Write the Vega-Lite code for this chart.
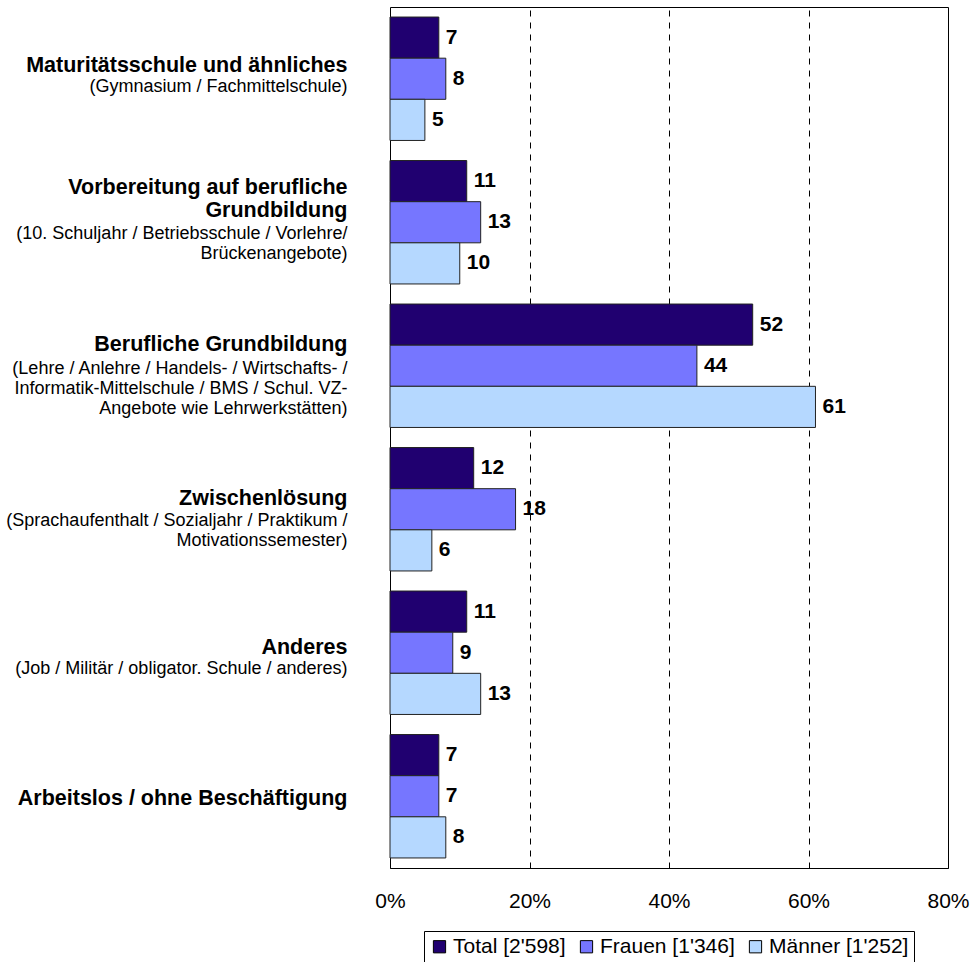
{
  "$schema": "https://vega.github.io/schema/vega-lite/v6.json",
  "width": 558,
  "height": 861,
  "padding": {"left": 5, "top": 7, "right": 0, "bottom": 0},
  "background": "white",
  "config": {
    "font": "Liberation Sans",
    "view": {"stroke": "black", "strokeWidth": 1},
    "axis": {"domain": false, "ticks": false, "title": null},
    "legend": {"layout": {"bottom": {"anchor": "middle"}}}
  },
  "data": {
    "values": [
      {"cat": "Maturitätsschule und ähnliches", "series": "Total [2'598]", "value": 7},
      {"cat": "Maturitätsschule und ähnliches", "series": "Frauen [1'346]", "value": 8},
      {"cat": "Maturitätsschule und ähnliches", "series": "Männer [1'252]", "value": 5},
      {"cat": "Vorbereitung auf berufliche Grundbildung", "series": "Total [2'598]", "value": 11},
      {"cat": "Vorbereitung auf berufliche Grundbildung", "series": "Frauen [1'346]", "value": 13},
      {"cat": "Vorbereitung auf berufliche Grundbildung", "series": "Männer [1'252]", "value": 10},
      {"cat": "Berufliche Grundbildung", "series": "Total [2'598]", "value": 52},
      {"cat": "Berufliche Grundbildung", "series": "Frauen [1'346]", "value": 44},
      {"cat": "Berufliche Grundbildung", "series": "Männer [1'252]", "value": 61},
      {"cat": "Zwischenlösung", "series": "Total [2'598]", "value": 12},
      {"cat": "Zwischenlösung", "series": "Frauen [1'346]", "value": 18},
      {"cat": "Zwischenlösung", "series": "Männer [1'252]", "value": 6},
      {"cat": "Anderes", "series": "Total [2'598]", "value": 11},
      {"cat": "Anderes", "series": "Frauen [1'346]", "value": 9},
      {"cat": "Anderes", "series": "Männer [1'252]", "value": 13},
      {"cat": "Arbeitslos / ohne Beschäftigung", "series": "Total [2'598]", "value": 7},
      {"cat": "Arbeitslos / ohne Beschäftigung", "series": "Frauen [1'346]", "value": 7},
      {"cat": "Arbeitslos / ohne Beschäftigung", "series": "Männer [1'252]", "value": 8}
    ]
  },
  "resolve": {"axis": {"y": "independent"}},
  "layer": [
    {
      "mark": {"type": "bar", "stroke": "#222222", "strokeWidth": 1},
      "encoding": {
        "y": {
          "field": "cat", "type": "nominal",
          "sort": ["Maturitätsschule und ähnliches", "Vorbereitung auf berufliche Grundbildung", "Berufliche Grundbildung", "Zwischenlösung", "Anderes", "Arbeitslos / ohne Beschäftigung"],
          "scale": {"paddingInner": 0.14, "paddingOuter": 0.07},
          "axis": {
            "orient": "left",
            "labelFont": "Liberation Sans",
            "labelFontSize": 21.5,
            "labelFontWeight": "bold",
            "labelColor": "black",
            "labelLineHeight": 23,
            "labelPadding": 43,
            "labelLimit": 0,
            "labelBaseline": "middle",
            "labelOffset": {"expr": "datum.value == 'Maturitätsschule und ähnliches' ? -13 : datum.value == 'Vorbereitung auf berufliche Grundbildung' ? -34 : datum.value == 'Berufliche Grundbildung' ? -21 : datum.value == 'Zwischenlösung' ? -10 : datum.value == 'Anderes' ? -5 : 3"},
            "labelExpr": "datum.value == 'Vorbereitung auf berufliche Grundbildung' ? ['Vorbereitung auf berufliche', 'Grundbildung'] : datum.value"
          }
        },
        "yOffset": {
          "field": "series", "type": "nominal",
          "sort": ["Total [2'598]", "Frauen [1'346]", "Männer [1'252]"],
          "scale": {"paddingInner": 0, "paddingOuter": 0}
        },
        "x": {
          "field": "value", "type": "quantitative",
          "scale": {"domain": [0, 80], "nice": false},
          "axis": {
            "values": [0, 20, 40, 60, 80],
            "labelExpr": "datum.value + '%'",
            "labelFontSize": 21,
            "labelColor": "black",
            "labelPadding": 22,
            "labelFlush": false,
            "grid": true,
            "gridColor": "black",
            "gridDash": [6, 6],
            "gridWidth": 1,
            "gridOpacity": 1
          }
        },
        "color": {
          "field": "series", "type": "nominal",
          "sort": ["Total [2'598]", "Frauen [1'346]", "Männer [1'252]"],
          "scale": {
            "domain": ["Total [2'598]", "Frauen [1'346]", "Männer [1'252]"],
            "range": ["#200070", "#7676FF", "#B5D8FF"]
          },
          "legend": {
            "title": null,
            "orient": "bottom",
            "direction": "horizontal",
            "columns": 3,
            "symbolType": "square",
            "symbolSize": 150,
            "symbolStrokeColor": "black",
            "symbolStrokeWidth": 1,
            "symbolOpacity": 1,
            "labelFontSize": 21,
            "labelColor": "black",
            "labelOffset": 3,
            "columnPadding": 10,
            "strokeColor": "black",
            "padding": 5,
            "offset": 20
          }
        }
      }
    },
    {
      "mark": {"type": "text", "align": "left", "baseline": "middle", "dx": 7, "fontSize": 21, "fontWeight": "bold", "color": "black"},
      "encoding": {
        "y": {
          "field": "cat", "type": "nominal",
          "sort": ["Maturitätsschule und ähnliches", "Vorbereitung auf berufliche Grundbildung", "Berufliche Grundbildung", "Zwischenlösung", "Anderes", "Arbeitslos / ohne Beschäftigung"],
          "axis": {
            "orient": "left",
            "labelFont": "Liberation Sans",
            "labelFontSize": 18,
            "labelFontWeight": "normal",
            "labelColor": "black",
            "labelLineHeight": 20,
            "labelPadding": 43,
            "labelLimit": 0,
            "labelBaseline": "middle",
            "grid": false,
            "labelOffset": {"expr": "datum.value == 'Maturitätsschule und ähnliches' ? 8 : datum.value == 'Vorbereitung auf berufliche Grundbildung' ? 12 : datum.value == 'Berufliche Grundbildung' ? 3 : datum.value == 'Zwischenlösung' ? 12 : datum.value == 'Anderes' ? 16 : 0"},
            "labelExpr": "datum.value == 'Maturitätsschule und ähnliches' ? '(Gymnasium / Fachmittelschule)' : datum.value == 'Vorbereitung auf berufliche Grundbildung' ? ['(10. Schuljahr / Betriebsschule / Vorlehre/', 'Brückenangebote)'] : datum.value == 'Berufliche Grundbildung' ? ['(Lehre / Anlehre / Handels- / Wirtschafts- /', 'Informatik-Mittelschule / BMS / Schul. VZ-', 'Angebote wie Lehrwerkstätten)'] : datum.value == 'Zwischenlösung' ? ['(Sprachaufenthalt / Sozialjahr / Praktikum /', 'Motivationssemester)'] : datum.value == 'Anderes' ? '(Job / Militär / obligator. Schule / anderes)' : ''"
          }
        },
        "yOffset": {
          "field": "series", "type": "nominal",
          "sort": ["Total [2'598]", "Frauen [1'346]", "Männer [1'252]"]
        },
        "x": {"field": "value", "type": "quantitative"},
        "text": {"field": "value", "type": "quantitative"}
      }
    }
  ]
}
